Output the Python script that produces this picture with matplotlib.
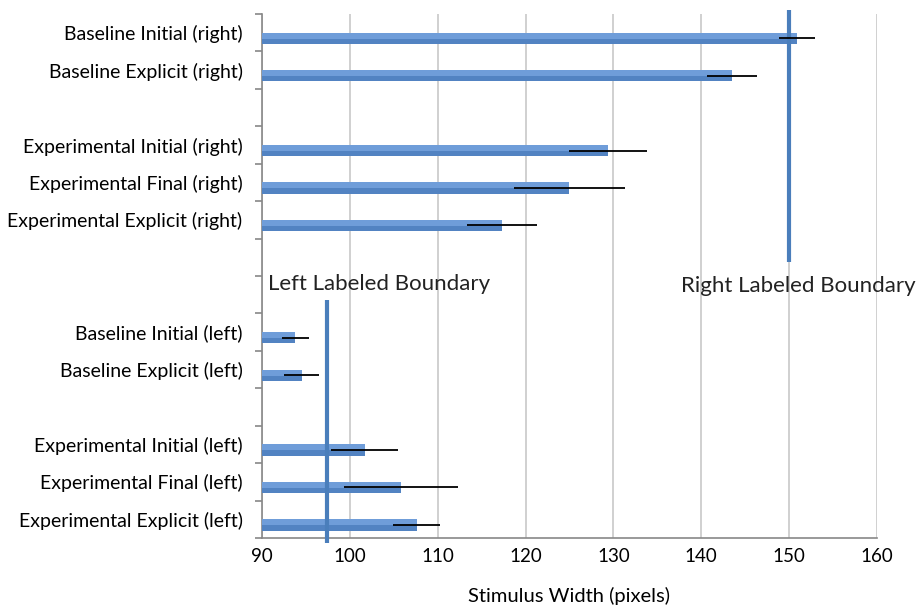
import matplotlib
matplotlib.use("Agg")
import matplotlib.pyplot as plt
import numpy as np

plt.rcParams['font.family'] = ['Lato', 'DejaVu Sans']

# category slots, top to bottom ("" = empty gap slot)
labels = ["Baseline Initial (right)", "Baseline Explicit (right)", "",
          "Experimental Initial (right)", "Experimental Final (right)",
          "Experimental Explicit (right)", "", "",
          "Baseline Initial (left)", "Baseline Explicit (left)", "",
          "Experimental Initial (left)", "Experimental Final (left)",
          "Experimental Explicit (left)"]
values = [150.9, 143.5, None, 129.4, 125.0, 117.3, None, None,
          93.8, 94.5, None, 101.7, 105.85, 107.6]
errors = [2.1, 2.85, None, 4.4, 6.3, 4.0, None, None,
          1.55, 2.0, None, 3.8, 6.5, 2.7]

right_boundary = 150.0
left_boundary = 97.4

fig = plt.figure(figsize=(9.18, 6.05), dpi=100)
ax = fig.add_axes([0.2854, 0.1107, 0.6699, 0.8662])

# bars sit slightly below the slot centre
bar_off = 0.15
base = 90
for i, (v, e) in enumerate(zip(values, errors)):
    if v is None:
        continue
    y = i + bar_off
    ax.barh(y, v - base, left=base, height=0.3, color='#6f9dd9', zorder=3)
    ax.barh(y + 0.08, v - base, left=base, height=0.14, color='#5283c2', zorder=3)
    ax.plot([v - e, v + e], [y, y], color='black', lw=1.3, zorder=5,
            solid_capstyle='butt')

# labelled boundaries
ax.plot([right_boundary, right_boundary], [-0.6, 6.13], color='#4a7ebb', lw=3,
        zorder=4, clip_on=False, solid_capstyle='butt')
ax.plot([left_boundary, left_boundary], [7.15, 13.63], color='#4a7ebb', lw=3,
        zorder=4, clip_on=False, solid_capstyle='butt')
ax.text(left_boundary - 6.7, 6.72, "Left Labeled Boundary", fontsize=16,
        va='center', ha='left', color='#222222')
ax.text(right_boundary - 12.3, 6.77, "Right Labeled Boundary", fontsize=16,
        va='center', ha='left', color='#222222', clip_on=False)

ax.set_xlim(90, 160)
ax.set_ylim(13.5, -0.5)
ax.set_xticks(np.arange(90, 161, 10))
ax.tick_params(axis='x', length=0, labelsize=13.5, pad=7)
ax.xaxis.grid(True, color='#c8c8c8', lw=1.2, zorder=0)
ax.set_axisbelow(True)

ax.set_yticks(np.arange(len(labels)))
ax.set_yticklabels(labels, fontsize=14)
ax.set_yticks(np.arange(-0.5, len(labels), 1.0), minor=True)
ax.tick_params(axis='y', which='major', length=0, pad=14)
ax.tick_params(axis='y', which='minor', length=5, color='#888888', width=1.2)

for s in ['top', 'right']:
    ax.spines[s].set_visible(False)
for s in ['left', 'bottom']:
    ax.spines[s].set_color('#888888')
    ax.spines[s].set_linewidth(1.2)

ax.set_xlabel("Stimulus Width (pixels)", fontsize=14.5, labelpad=16)

fig.savefig("out.png", dpi=100)
